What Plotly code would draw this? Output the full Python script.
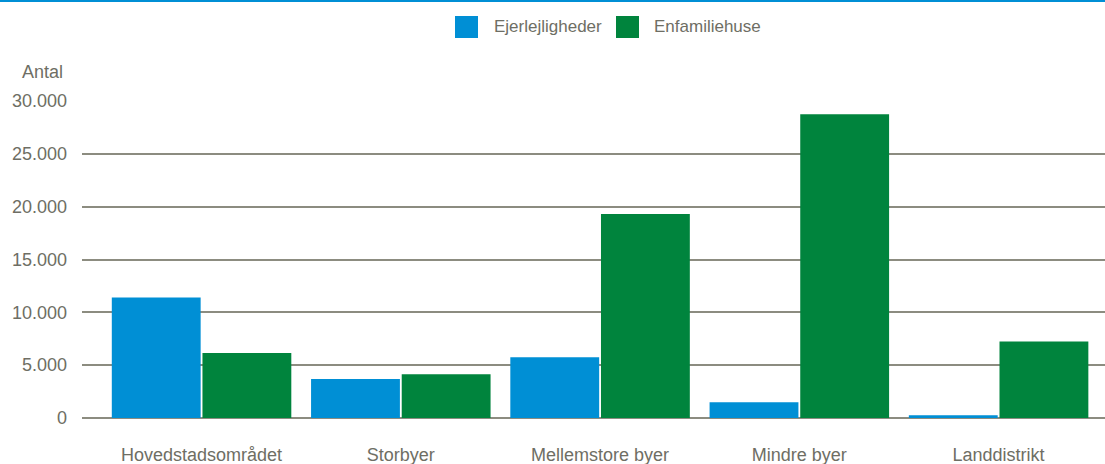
import plotly.graph_objects as go

categories = ["Hovedstadsområdet", "Storbyer", "Mellemstore byer", "Mindre byer", "Landdistrikt"]
series_names = ["Ejerlejligheder", "Enfamiliehuse"]
ejerlejligheder = [11400, 3700, 5750, 1500, 250]
enfamiliehuse = [6150, 4150, 19300, 28750, 7250]
tick_vals = [0, 5000, 10000, 15000, 20000, 25000, 30000]
tick_text = ["0", "5.000", "10.000", "15.000", "20.000", "25.000", "30.000"]
colors = ["#008fd5", "#00843d"]
text_color = "#6e6e64"
grid_color = "#8c8c80"

fig = go.Figure()
for name, vals, col in zip(series_names, [ejerlejligheder, enfamiliehuse], colors):
    fig.add_trace(go.Bar(x=categories, y=vals, name=name, marker_color=col,
                         marker_line_width=0, showlegend=False))

W, H = 1105, 464
L, R, T, B = 82, 0, 101, 46
ph = H - T - B
pw = W - L - R

def py(pixel_y):
    return (H - B - pixel_y) / ph

def px(pixel_x):
    return (pixel_x - L) / pw

shapes = [dict(type="line", xref="paper", yref="paper", x0=px(0), x1=px(W),
               y0=py(1), y1=py(1), line=dict(color="#008fd5", width=2))]
annotations = [dict(text="Antal", xref="paper", yref="paper", x=px(65), y=py(72),
                    xanchor="right", yanchor="middle", showarrow=False,
                    font=dict(size=18, color=text_color))]
# custom legend
leg_items = [(455, 492), (616, 652)]
for (sx, tx), name, col in zip(leg_items, series_names, colors):
    shapes.append(dict(type="rect", xref="paper", yref="paper", x0=px(sx), x1=px(sx + 23),
                       y0=py(38), y1=py(16), fillcolor=col, line=dict(width=0)))
    annotations.append(dict(text=name, xref="paper", yref="paper", x=px(tx), y=py(27),
                            xanchor="left", yanchor="middle", showarrow=False,
                            font=dict(size=17, color=text_color)))

fig.update_layout(
    width=W, height=H,
    margin=dict(l=L, r=R, t=T, b=B, pad=0),
    paper_bgcolor="white", plot_bgcolor="white",
    font=dict(family="Liberation Sans, Arial, sans-serif", size=18, color=text_color),
    barmode="group", bargap=0.09, bargroupgap=0.02,
    shapes=shapes, annotations=annotations,
    xaxis=dict(range=[-0.6, 4.534], showgrid=False, showline=False, zeroline=False,
               ticks="", ticklabelstandoff=24, tickfont=dict(size=18, color=text_color)),
    yaxis=dict(range=[0, 30000], tickvals=tick_vals, ticktext=tick_text,
               showgrid=True, gridcolor=grid_color, gridwidth=2,
               zeroline=True, zerolinecolor=grid_color, zerolinewidth=2,
               showline=False, ticks="", ticklabelstandoff=14,
               tickfont=dict(size=18, color=text_color)),
)
fig.write_html("out.html")
